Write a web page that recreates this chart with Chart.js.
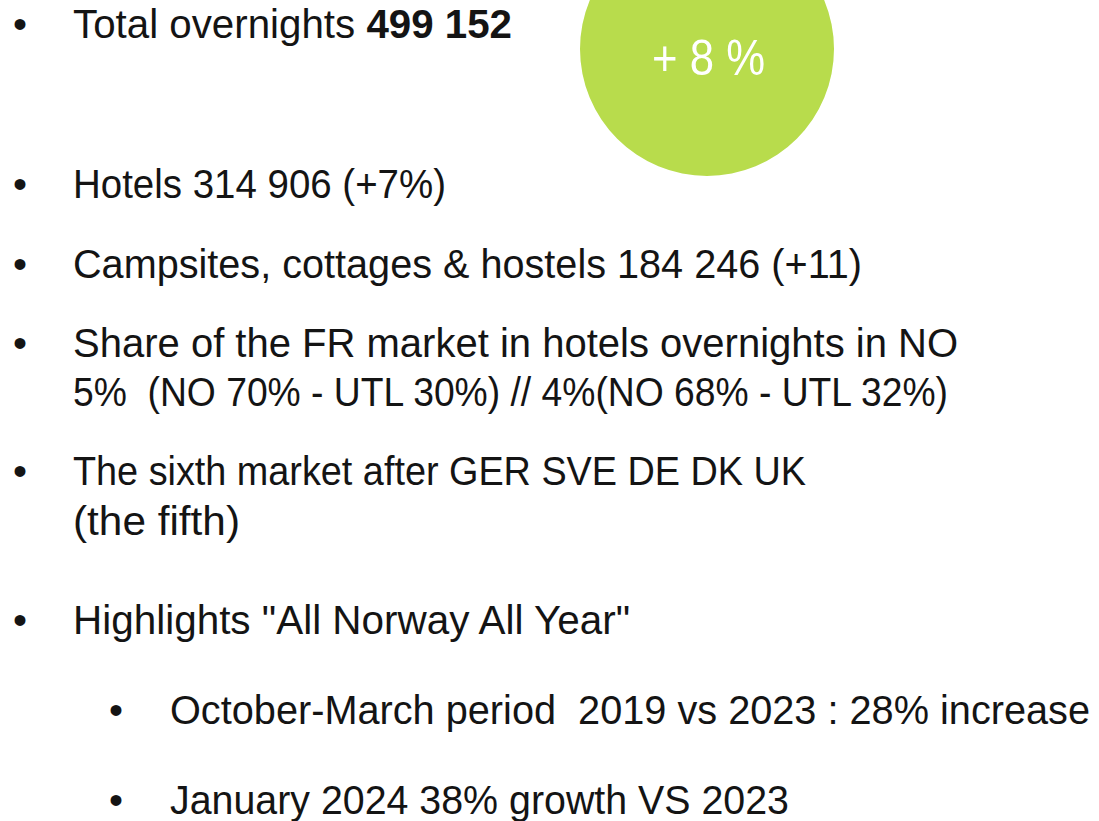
<!DOCTYPE html>
<html>
<head>
<meta charset="utf-8">
<script src="https://cdn.jsdelivr.net/npm/chart.js@4.4.1/dist/chart.umd.min.js"></script>
<style>
  html, body { margin: 0; padding: 0; background: #ffffff; }
  body { width: 1099px; height: 821px; position: relative; overflow: hidden;
         font-family: "Liberation Sans", Arial, sans-serif; color: #141414; }
  #circleWrap { position: absolute; left: 580px; top: -78px; width: 254px; height: 254px; }
  #badge { position: absolute; left: 652px; top: 33px; color: #ffffff; font-size: 50px;
           line-height: 1; white-space: pre; transform-origin: 0 0; }
  .line { position: absolute; font-size: 40px; line-height: 1; white-space: pre; transform-origin: 0 0; }
  .bullet { position: absolute; font-size: 40px; line-height: 1; }
</style>
</head>
<body>
<div id="circleWrap"><canvas id="c"></canvas></div>
<div id="badge"></div>
<div id="text"></div>
<script>
// ---- data ----
const growthLabels = ["Total overnights growth"];
const growthValues = [8];
const badgeText = "+ 8 %";
const bulletLines = [
  ["Total overnights ", "499 152"],
  ["Hotels 314 906 (+7%)"],
  ["Campsites, cottages & hostels 184 246 (+11)"],
  ["Share of the FR market in hotels overnights in NO"],
  ["5%  (NO 70% - UTL 30%) // 4%(NO 68% - UTL 32%)"],
  ["The sixth market after GER SVE DE DK UK"],
  ["(the fifth)"],
  ["Highlights \"All Norway All Year\""],
  ["October-March period  2019 vs 2023 : 28% increase"],
  ["January 2024 38% growth VS 2023"]
];
// layout: [top, textLeft, textRight, bulletLeft or null]
const layout = [
  [4, 73, 512, 13], [164, 73, 446, 13], [244, 73, 862, 13], [323, 73, 958, 13], [372, 73, 948, null],
  [451, 73, 806, 13], [501, 73, 240, null], [600, 73, 630, 13], [690, 170, 1090, 109], [780, 170, 789, 109]
];

const textDiv = document.getElementById('text');
bulletLines.forEach((parts, i) => {
  const [top, left, right, bl] = layout[i];
  if (bl !== null) {
    const b = document.createElement('div');
    b.className = 'bullet';
    b.style.top = top + 'px';
    b.style.left = bl + 'px';
    b.textContent = '•';
    textDiv.appendChild(b);
  }
  const d = document.createElement('div');
  d.className = 'line';
  d.style.top = top + 'px';
  d.style.left = left + 'px';
  d.appendChild(document.createTextNode(parts[0]));
  if (parts[1]) {
    const s = document.createElement('b');
    s.textContent = parts[1];
    d.appendChild(s);
  }
  textDiv.appendChild(d);
  const w = d.getBoundingClientRect().width;
  d.style.transform = 'scaleX(' + ((right - left) / w).toFixed(4) + ')';
});
const badge = document.getElementById('badge');
badge.textContent = badgeText;
const bw = badge.getBoundingClientRect().width;
badge.style.transform = 'scaleX(' + (113 / bw).toFixed(4) + ')';

new Chart(document.getElementById('c'), {
  type: 'pie',
  data: {
    labels: growthLabels,
    datasets: [{ data: growthValues, backgroundColor: ['#b8dc4c'], borderWidth: 0 }]
  },
  options: {
    responsive: true,
    maintainAspectRatio: true,
    animation: false,
    layout: { padding: 0 },
    plugins: { legend: { display: false }, tooltip: { enabled: false } }
  }
});
</script>
</body>
</html>
